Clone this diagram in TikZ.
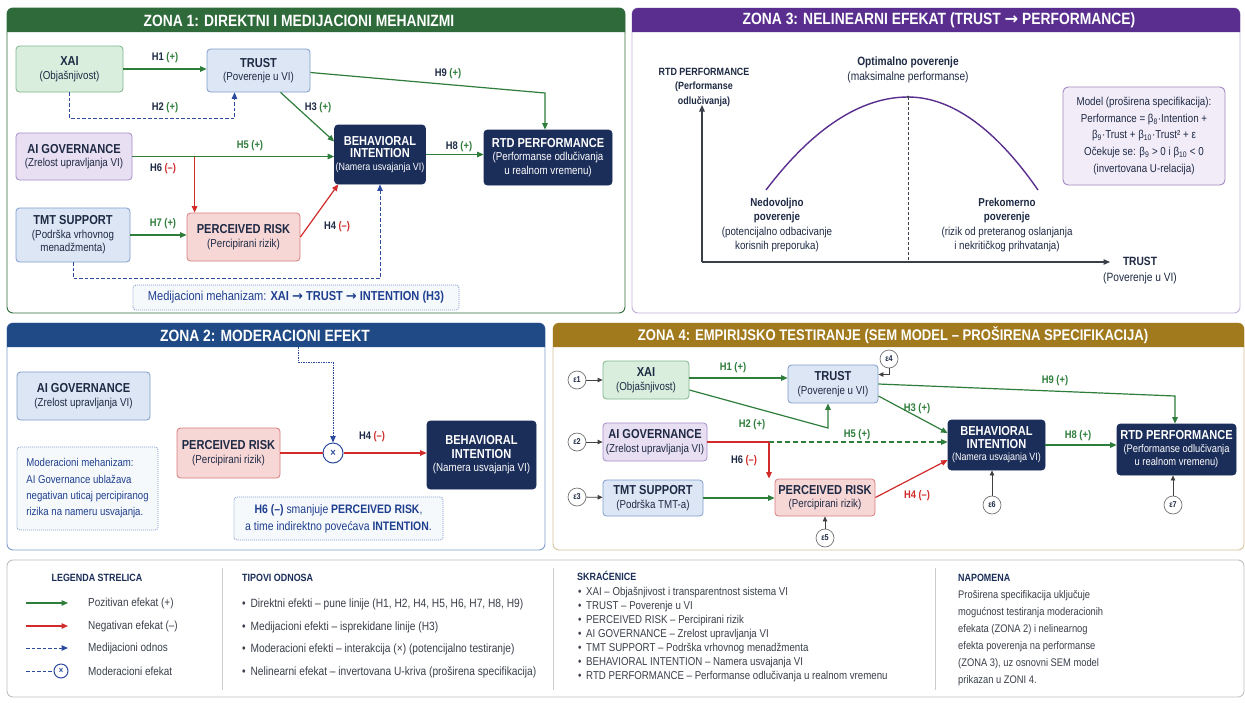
\documentclass[tikz,border=0pt]{standalone}
\usepackage{fontspec}
\setmainfont{Liberation Sans}[FakeStretch=0.85]
\newfontfamily\arrowfont{DejaVu Sans}
\usetikzlibrary{arrows.meta,calc}

\definecolor{txt}{HTML}{1E2A44}
\definecolor{zg}{HTML}{2F6A3A}
\definecolor{zp}{HTML}{5A2E8F}
\definecolor{zb}{HTML}{1F4A85}
\definecolor{zy}{HTML}{A27A1E}
\definecolor{navy}{HTML}{1B2D59}
\definecolor{ga}{HTML}{2E7D3B}
\definecolor{ra}{HTML}{D12B2B}
\definecolor{ba}{HTML}{2B4AA0}
\definecolor{gf}{HTML}{DAEEDD}\definecolor{gd}{HTML}{7FB68B}
\definecolor{bf}{HTML}{DCE6F5}\definecolor{bd}{HTML}{7F9DCB}
\definecolor{pf}{HTML}{E9DFF3}\definecolor{pd}{HTML}{A68DC8}
\definecolor{rf}{HTML}{F7D6D6}\definecolor{rd}{HTML}{D87D7D}
\definecolor{mtx}{HTML}{1F3F8F}
\definecolor{gry}{HTML}{3A3F4A}

% fonts
\newcommand\tf{\fontsize{13}{14.5}\selectfont\bfseries}
\newcommand\hf{\fontsize{16.3}{19}\selectfont\bfseries}
\newcommand\ar{{\arrowfont →}}
% hypothesis labels
\newcommand\hp[1]{#1 \textcolor{ga}{(+)}}
\newcommand\hn[1]{#1 \textcolor{ra}{(–)}}
% box from corner coordinates: name, x1, y1, x2, y2, style, text
\newcommand\bx[7]{\node[#6, minimum width={(#4-#2)*1pt}, minimum height={(#5-#3)*1pt}] (#1) at ({(#2+#4)/2},{(#3+#5)/2}) {#7};}
% panel with header: name, x1, y1, x2, y2, header colour, border colour, title, title centre x
\newcommand\zone[9]{%
  \draw[draw=#7, line width=0.9pt, fill=white, rounded corners=6pt] (#2,#3) rectangle (#4,#5);
  \fill[#6] (#2,#3+24) [rounded corners=6pt] -- (#2,#3) -- (#4,#3) [sharp corners] -- (#4,#3+24) -- cycle;
  \node[font=\hf, text=white, inner sep=0pt] (#1) at (#9,#3+12.5) {#8};}

\begin{document}
\begin{tikzpicture}[x=1pt,y=-1pt,
  font=\fontsize{11.5}{13.5}\selectfont, text=txt,
  box/.style={rounded corners=3.5pt, align=center, inner sep=1pt, line width=0.8pt, text=txt},
  gbox/.style={box, fill=gf, draw=gd},
  bbox/.style={box, fill=bf, draw=bd},
  pbox/.style={box, fill=pf, draw=pd},
  rbox/.style={box, fill=rf, draw=rd},
  nbox/.style={box, fill=navy, draw=navy, text=white},
  small/.style={font=\fontsize{10.5}{12.5}\selectfont},
  ahead/.style={-{Triangle[length=6.5pt,width=5.5pt]}},
  garr/.style={draw=ga, line width=1.2pt, ahead},
  rarr/.style={draw=ra, line width=1.2pt, ahead},
  rline/.style={draw=ra, line width=1.2pt},
  barr/.style={draw=ba, line width=1pt, dash pattern=on 3.5pt off 2pt, ahead},
  lbl/.style={font=\fontsize{11}{13}\selectfont\bfseries, text=txt, inner sep=1pt},
  note/.style={rounded corners=3pt, draw=bd, line width=0.8pt, dash pattern=on 1pt off 1pt, fill=bf!25, text=mtx},
  eps/.style={circle, draw=black!55, fill=white, line width=0.7pt, minimum size=18pt, inner sep=0pt, font=\fontsize{8.5}{9}\selectfont\bfseries},
  karr/.style={draw=black!75, line width=0.8pt, -{Triangle[length=5pt,width=4.5pt]}},
  cross/.style={circle, draw=ba, fill=white, line width=1pt, minimum size=20pt, inner sep=0pt, text=ba, font=\fontsize{11}{11}\selectfont\bfseries},
  legt/.style={font=\fontsize{10.5}{12}\selectfont\bfseries, text=navy, anchor=west, inner sep=0pt},
  legx/.style={font=\fontsize{11.7}{13}\selectfont, text=gry, anchor=west, inner sep=0pt},
  legb/.style={legx, font=\fontsize{11.4}{13}\selectfont},
]
\useasboundingbox (0,0) rectangle (1245,702);
\fill[white] (0,0) rectangle (1245,702);

% ---------------- ZONA 1 ----------------
\zone{t1}{7}{8}{625}{313}{zg}{zg}{ZONA 1: DIREKTNI I MEDIJACIONI MEHANIZMI}{299}

\bx{xai}{16}{46}{123}{92}{gbox}{\tf XAI\\(Objašnjivost)}
\bx{trust}{207}{49}{310}{92}{bbox}{\tf TRUST\\(Poverenje u VI)}
\bx{gov}{16}{133}{132}{180}{pbox}{\tf AI GOVERNANCE\\(Zrelost upravljanja VI)}
\bx{tmt}{16}{208}{130}{262}{bbox}{\tf TMT SUPPORT\\(Podrška vrhovnog\\menadžmenta)}
\bx{pr}{187}{213}{300}{261}{rbox}{\tf PERCEIVED RISK\\(Percipirani rizik)}
\bx{bi}{335}{125}{425}{184}{nbox, small}{\tf BEHAVIORAL\\\tf INTENTION\\(Namera usvajanja VI)}
\bx{rtd}{484}{130}{612}{185}{nbox}{\tf RTD PERFORMANCE\\(Performanse odlučivanja\\u realnom vremenu)}

\draw[garr] (xai.east) -- (xai.east -| trust.west);
\node[lbl] (l1h1) at (165,58) {\hp{H1}};
\draw[barr] (xai.south) -- ++(0,26) -| ([xshift=-24pt]trust.south);
\node[lbl] (l1h2) at (165,108) {\hp{H2}};
\coordinate (h9a) at (545,93);
\draw[garr] ([yshift=-2pt]trust.east) -- (h9a) -- (h9a |- rtd.north);
\node[lbl] (l1h9) at (448,74) {\hp{H9}};
\draw[garr] ([xshift=22pt]trust.south) -- ([yshift=13pt]bi.west);
\node[lbl] (l1h3) at (318,108) {\hp{H3}};
\draw[garr] (gov.east) -- (gov.east -| bi.west);
\node[lbl, text=ga] (l1h5) at (250,146) {H5 (+)};
\coordinate (h6a) at ([xshift=8pt]pr.north west);
\draw[rarr] (h6a |- gov.east) -- (h6a);
\node[lbl] (l1h6) at (163,169) {\hn{H6}};
\draw[garr] (tmt.east) -- (tmt.east -| pr.west);
\node[lbl, text=ga] (l1h7) at (163,224) {H7 (+)};
\draw[rarr] (pr.east) -- ([xshift=4pt]bi.south west);
\node[lbl] (l1h4) at (337,227) {\hn{H4}};
\draw[garr] (bi.east) -- (bi.east -| rtd.west);
\node[lbl] (l1h8) at (459,147) {\hp{H8}};
\draw[barr] (tmt.south) -- ++(0,16) -| (bi.south);
\node[note, minimum width=326pt, minimum height=25pt, font=\fontsize{13}{15}\selectfont] (med) at (296,297.5)
  {Medijacioni mehanizam: \textbf{XAI \ar{} TRUST \ar{} INTENTION (H3)}};

% ---------------- ZONA 3 ----------------
\zone{t3}{632}{8}{1240}{313}{zp}{pd!70}{ZONA 3: NELINEARNI EFEKAT (TRUST \ar{} PERFORMANCE)}{939}

\coordinate (o) at (702,262);
\coordinate (ytip) at (702,105);
\coordinate (xtip) at (1110,262);
\draw[line width=1.2pt, draw=gry, -{Triangle[length=6.5pt,width=5.5pt]}] (o) -- (ytip);
\draw[line width=1.2pt, draw=gry, -{Triangle[length=6.5pt,width=5.5pt]}] (o) -- (xtip);
\coordinate (cl) at (766,190);
\coordinate (pk) at (908,97);
\coordinate (cr) at (1038,190);
\draw[zp, line width=1.4pt] (cl) .. controls (813,128) and (861,97) .. (pk)
  .. controls (951,97) and (995,128) .. (cr);
\draw[gry, line width=0.8pt, dash pattern=on 3pt off 2pt] (pk) -- (pk |- o);
\fill[gry] (pk) circle (1.5pt);

\node[font=\fontsize{10.5}{14.5}\selectfont\bfseries, align=center] (ylab) at (704,87)
  {RTD PERFORMANCE\\(Performanse\\odlučivanja)};
\node[align=center, font=\fontsize{12}{15.5}\selectfont] (opt) at (908,70)
  {\bfseries Optimalno poverenje\\(maksimalne performanse)};
\node[align=center, font=\fontsize{11.5}{14.5}\selectfont] (low) at (777,225)
  {\bfseries Nedovoljno\\\bfseries poverenje\\(potencijalno odbacivanje\\korisnih preporuka)};
\node[align=center, font=\fontsize{11.5}{14.5}\selectfont] (high) at (1007,225)
  {\bfseries Prekomerno\\\bfseries poverenje\\(rizik od preteranog oslanjanja\\i nekritičkog prihvatanja)};
\node[align=center, font=\fontsize{12}{16}\selectfont] (xlab) at (1140,271)
  {\bfseries TRUST\\(Poverenje u VI)};
\node[rounded corners=5pt, draw=pd!80!gray, line width=0.9pt, fill=pf!60, align=center,
  minimum width=162pt, minimum height=98pt, font=\fontsize{11.5}{16.7}\selectfont] (model) at (1144,136)
  {Model (proširena specifikacija):\\Performance = β\textsubscript{8}·Intention +\\β\textsubscript{9}·Trust + β\textsubscript{10}·Trust² + ε\\Očekuje se: β\textsubscript{9} > 0 i β\textsubscript{10} < 0\\(invertovana U-relacija)};

% ---------------- ZONA 2 ----------------
\zone{t2}{7}{323}{545}{550}{zb}{bd}{ZONA 2: MODERACIONI EFEKT}{265}

\bx{gov2}{17}{372}{150}{420}{bbox}{\tf AI GOVERNANCE\\(Zrelost upravljanja VI)}
\bx{modn}{17}{447}{158}{530}{note, align=left, font=\fontsize{11.3}{16.3}\selectfont}{Moderacioni mehanizam:\\AI Governance ublažava\\negativan uticaj percipiranog\\rizika na nameru usvajanja.}
\bx{pr2}{177}{428}{280}{478}{rbox}{\tf PERCEIVED RISK\\(Percipirani rizik)}
\node[cross] (mx) at (333,453) {×};
\bx{bi2}{427}{421}{536}{489}{nbox}{\tf BEHAVIORAL\\\tf INTENTION\\(Namera usvajanja VI)}
\draw[rline] (pr2.east) -- (mx.west);
\draw[rarr] (mx.east) -- (mx.east -| bi2.west);
\node[lbl] (l2h4) at (372,437) {\hn{H4}};
\coordinate (m2) at (298,347);
\draw[draw=ba, line width=1pt, dash pattern=on 1.5pt off 1pt, ahead] (m2) -- ++(0,15) -| (mx.north);
\bx{h6n}{234}{497}{443}{540}{note, align=center, font=\fontsize{12.3}{17}\selectfont}{\textbf{H6 (–)} smanjuje \textbf{PERCEIVED RISK},\\a time indirektno povećava \textbf{INTENTION}.}

% ---------------- ZONA 4 ----------------
\zone{t4}{553}{323}{1244}{550}{zy}{zy!45}{\fontsize{15.4}{18}\selectfont ZONA 4: EMPIRIJSKO TESTIRANJE (SEM MODEL – PROŠIRENA SPECIFIKACIJA)}{893}

\bx{xai4}{603}{361}{689}{399}{gbox}{\tf XAI\\(Objašnjivost)}
\bx{trust4}{788}{365}{878}{403}{bbox}{\tf TRUST\\(Poverenje u VI)}
\bx{gov4}{603}{423}{707}{461}{pbox}{\tf AI GOVERNANCE\\(Zrelost upravljanja VI)}
\bx{tmt4}{603}{480}{703}{516}{bbox}{\tf TMT SUPPORT\\(Podrška TMT-a)}
\bx{pr4}{775}{479}{875}{516}{rbox}{\tf PERCEIVED RISK\\(Percipirani rizik)}
\bx{bi4}{948}{420}{1045}{470}{nbox, small}{\tf BEHAVIORAL\\\tf INTENTION\\(Namera usvajanja VI)}
\bx{rtd4}{1117}{424}{1236}{475}{nbox, font=\fontsize{11}{13}\selectfont}{\tf RTD PERFORMANCE\\(Performanse odlučivanja\\u realnom vremenu)}

\node[eps] (e1) at (577,380) {ε1};
\node[eps] (e2) at (577,442) {ε2};
\node[eps] (e3) at (577,497) {ε3};
\node[eps] (e4) at (889,359) {ε4};
\node[eps] (e5) at (825,538) {ε5};
\node[eps] (e6) at (992,505) {ε6};
\node[eps] (e7) at (1173,505) {ε7};
\draw[karr] (e1) -- (xai4);
\draw[karr] (e2) -- (gov4);
\draw[karr] (e3) -- (tmt4);
\draw[karr] (e4.south) |- ([yshift=9.5pt]trust4.east);
\draw[karr] (e5) -- (e5 |- pr4.south);
\draw[karr] (e6) -- (e6 |- bi4.south);
\draw[karr] (e7) -- (e7 |- rtd4.south);

\draw[garr] ([yshift=2pt]xai4.east) -- ([yshift=2pt]xai4.east -| trust4.west);
\node[lbl, text=ga] (l4h1) at (733,368) {H1 (+)};
\coordinate (h2a) at (828,428);
\draw[garr] ([yshift=-10pt]xai4.east) -- (h2a) -- (h2a |- trust4.south);
\node[lbl, text=ga] (l4h2) at (752,425) {H2 (+)};
\coordinate (h9b) at (1175,396);
\draw[garr] (trust4.east) -- (h9b) -- (h9b |- rtd4.north);
\node[lbl, text=ga] (l4h9) at (1055,381) {H9 (+)};
\draw[garr] ([yshift=-12pt]trust4.east) -- ([yshift=12pt]bi4.west);
\node[lbl, text=ga] (l4h3) at (917,409) {H3 (+)};
\coordinate (h6b) at (769,442);
\draw[rline] (gov4.east) -- (h6b);
\draw[garr, dash pattern=on 5pt off 3pt] (h6b) -- (h6b -| bi4.west);
\node[lbl, text=ga] (l4h5) at (857,435) {H5 (+)};
\draw[rarr] (h6b) -- (h6b |- pr4.north);
\node[lbl] (l4h6) at (744,461) {\hn{H6}};
\draw[garr] (tmt4.east) -- (tmt4.east -| pr4.west);
\draw[rarr] (pr4.east) -- ([yshift=-15pt]bi4.west);
\node[lbl, text=ra] (l4h4) at (917,496) {H4 (–)};
\draw[garr] (bi4.east) -- (bi4.east -| rtd4.west);
\node[lbl, text=ga] (l4h8) at (1078,436) {H8 (+)};

% ---------------- LEGENDA ----------------
\draw[draw=black!25, line width=0.9pt, fill=white, rounded corners=6pt] (7,560) rectangle (1244,697);
\coordinate (dv1a) at (222,568); \coordinate (dv1b) at (222,690);
\coordinate (dv2a) at (553,568); \coordinate (dv2b) at (553,690);
\coordinate (dv3a) at (935,568); \coordinate (dv3b) at (935,690);
\draw[black!20, line width=0.8pt] (dv1a) -- (dv1b) (dv2a) -- (dv2b) (dv3a) -- (dv3b);

\node[legt, anchor=center] (lg0) at (97,578) {LEGENDA STRELICA};
\coordinate (la1) at (26,603); \coordinate (lb1) at (68,603);
\coordinate (la2) at (26,626); \coordinate (lb2) at (68,626);
\coordinate (la3) at (26,648); \coordinate (lb3) at (68,648);
\coordinate (la4) at (26,671);
\draw[garr] (la1) -- (lb1);
\draw[rarr] (la2) -- (lb2);
\draw[barr] (la3) -- (lb3);
\node[cross, minimum size=14pt, font=\fontsize{9}{9}\selectfont\bfseries] (lx) at (61,671) {×};
\draw[draw=ba, line width=1pt, dash pattern=on 3.5pt off 2pt] (la4) -- (lx.west);
\node[legx] (lt1) at (88,603) {Pozitivan efekat (+)};
\node[legx] (lt2) at (88,626) {Negativan efekat (–)};
\node[legx] (lt3) at (88,648) {Medijacioni odnos};
\node[legx] (lt4) at (88,671) {Moderacioni efekat};

\node[legt] (tp0) at (242,578) {TIPOVI ODNOSA};
\node[legx, font=\fontsize{12}{13}\selectfont] (tp1) at (242,604) {•\, Direktni efekti – pune linije (H1, H2, H4, H5, H6, H7, H8, H9)};
\node[legx, font=\fontsize{12}{13}\selectfont] (tp2) at (242,627) {•\, Medijacioni efekti – isprekidane linije (H3)};
\node[legx, font=\fontsize{12}{13}\selectfont] (tp3) at (242,649) {•\, Moderacioni efekti – interakcija (×) (potencijalno testiranje)};
\node[legx, font=\fontsize{12}{13}\selectfont] (tp4) at (242,672) {•\, Nelinearni efekat – invertovana U-kriva (proširena specifikacija)};

\node[legt] (sk0) at (577,576) {SKRAĆENICE};
\node[legb] (sk1) at (578,593) {•\, XAI – Objašnjivost i transparentnost sistema VI};
\node[legb] (sk2) at (578,607) {•\, TRUST – Poverenje u VI};
\node[legb] (sk3) at (578,621) {•\, PERCEIVED RISK – Percipirani rizik};
\node[legb] (sk4) at (578,635) {•\, AI GOVERNANCE – Zrelost upravljanja VI};
\node[legb] (sk5) at (578,649) {•\, TMT SUPPORT – Podrška vrhovnog menadžmenta};
\node[legb] (sk6) at (578,663) {•\, BEHAVIORAL INTENTION – Namera usvajanja VI};
\node[legb] (sk7) at (578,677) {•\, RTD PERFORMANCE – Performanse odlučivanja u realnom vremenu};

\node[legt] (np0) at (958,578) {NAPOMENA};
\node[legx, align=left, anchor=north west, font=\fontsize{11}{17}\selectfont] (np1) at (958,590)
  {Proširena specifikacija uključuje\\mogućnost testiranja moderacionih\\efekata (ZONA 2) i nelinearnog\\efekta poverenja na performanse\\(ZONA 3), uz osnovni SEM model\\prikazan u ZONI 4.};
\end{tikzpicture}
\end{document}
